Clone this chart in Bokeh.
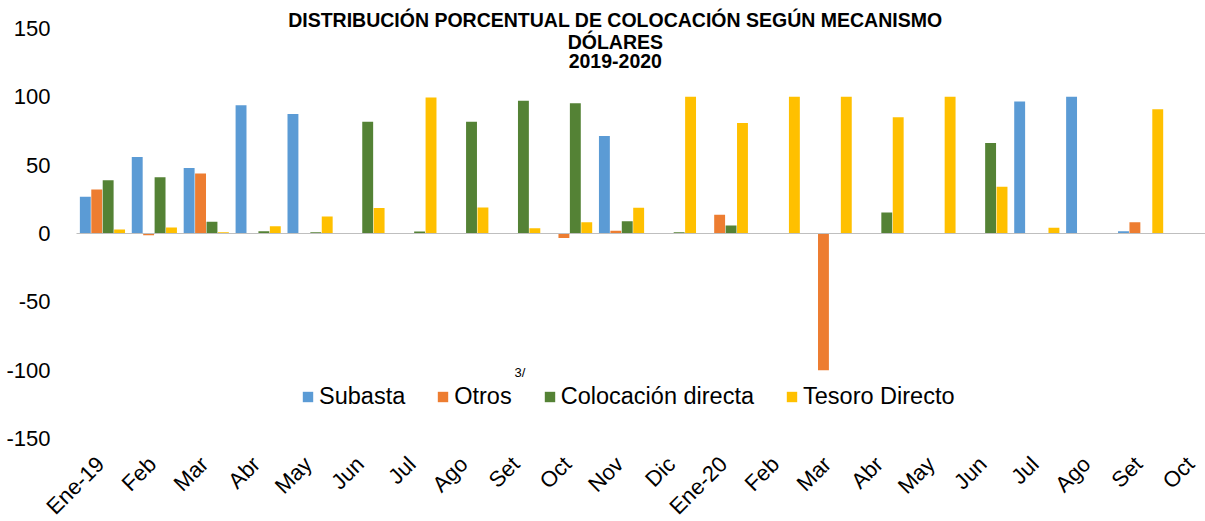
import math
from bokeh.plotting import figure
from bokeh.models import (Range1d, FixedTicker, Legend, LegendItem, Label, ColumnDataSource)
from bokeh.embed import file_html
from bokeh.resources import INLINE

months = ["Ene-19", "Feb", "Mar", "Abr", "May", "Jun", "Jul", "Ago", "Set", "Oct", "Nov", "Dic",
          "Ene-20", "Feb", "Mar", "Abr", "May", "Jun", "Jul", "Ago", "Set", "Oct"]
subasta = [26.9, 56.0, 47.9, 93.9, 87.5, 0, 0, 0, 0, 0, 71.4, 0,
           0, 0, 0, 0, 0, 0, 96.6, 100, 1.7, 0]
otros = [32.3, -1.2, 44.0, 0, 0, 0, 0, 0, 0, -3.2, 2.0, 0,
         13.7, 0, -100, 0, 0, 0, 0, 0, 8.3, 0]
colocacion = [38.9, 41.1, 8.6, 1.7, 1.0, 81.7, 1.5, 81.7, 97.1, 95.4, 9.0, 1.0,
              5.9, 0, 0, 15.4, 0, 66.3, 0, 0, 0, 0]
tesoro = [2.9, 4.4, 1.0, 5.4, 12.5, 18.6, 99.5, 19.1, 3.9, 8.3, 18.8, 100,
          80.9, 100, 100, 85.1, 100, 34.2, 4.2, 0, 91.0, 0]

series_names = ["Subasta", "Otros", "Colocación directa", "Tesoro Directo"]
series_vals = [subasta, otros, colocacion, tesoro]
colors = ["#5B9BD5", "#ED7D31", "#548235", "#FFC000"]
offsets = [-0.33, -0.11, 0.11, 0.33]
y_ticks = [-150, -100, -50, 0, 50, 100, 150]

FONT = "Liberation Sans"
X_START, X_END = -0.5, 21.25     # plotted category span
X_VIEW_START = -1.964            # room on the left for the value labels

p = figure(width=1205, height=521, output_backend="svg", toolbar_location=None,
           x_range=Range1d(X_VIEW_START, X_END), y_range=Range1d(-210.7, 170.5),
           min_border_left=0, min_border_right=0, min_border_top=0, min_border_bottom=0)
p.outline_line_color = None
p.xgrid.visible = False
p.ygrid.visible = False
p.background_fill_color = "white"
p.border_fill_color = "white"

xs = list(range(len(months)))
items = []
for name, vals, col, off in zip(series_names, series_vals, colors, offsets):
    src = ColumnDataSource(dict(x=[i + off for i in xs], top=vals))
    r = p.vbar(x="x", top="top", bottom=0, width=0.21, source=src,
               fill_color=col, line_color=None)
    items.append(LegendItem(label=name, renderers=[r]))

# x axis: drawn as the zero line, labels placed low below the plot
p.xaxis.fixed_location = 0
p.xaxis.bounds = (X_START, X_END)
p.xaxis.ticker = FixedTicker(ticks=xs)
p.xaxis.axis_line_color = "#BFBFBF"
p.xaxis.axis_line_width = 1
p.xaxis.major_tick_line_color = None
p.xaxis.minor_tick_line_color = None
p.xaxis.major_label_text_alpha = 0
p.xaxis.major_label_text_font_size = "1px"
p.xaxis.major_label_standoff = 0

# y axis
p.yaxis.fixed_location = X_START
p.yaxis.ticker = FixedTicker(ticks=y_ticks)
p.yaxis.major_label_overrides = {t: str(t) for t in y_ticks}
p.yaxis.axis_line_color = None
p.yaxis.major_tick_line_color = None
p.yaxis.minor_tick_line_color = None
p.yaxis.major_label_text_font = FONT
p.yaxis.major_label_text_font_size = "22px"
p.yaxis.major_label_text_color = "#000000"
p.yaxis.major_label_standoff = 20

for i, m in zip(xs, months):
    p.add_layout(Label(x=i, y=-166.0, text=m, angle=math.pi / 4, x_offset=-2,
                       text_align="right", text_baseline="middle",
                       text_font=FONT, text_font_size="22px", text_color="#000000"))

legend = Legend(items=items, orientation="horizontal", location=(301, 111),
                glyph_width=13, glyph_height=13, label_standoff=5, spacing=31,
                padding=0, margin=0, border_line_color=None, background_fill_alpha=0,
                label_text_font=FONT, label_text_font_size="23.5px", label_text_color="#000000",
                label_height=20)
p.add_layout(legend)

title_lines = ["DISTRIBUCIÓN PORCENTUAL DE COLOCACIÓN SEGÚN MECANISMO", "DÓLARES", "2019-2020"]
title_y = [155.9, 140.5, 125.9]
for t, yy in zip(title_lines, title_y):
    p.add_layout(Label(x=9.88, y=yy, text=t, text_align="center", text_baseline="middle",
                       text_font=FONT, text_font_size="19.5px", text_font_style="bold",
                       text_color="#000000"))

p.add_layout(Label(x=7.94, y=-101.7, text="3/", text_align="left", text_baseline="middle",
                   text_font=FONT, text_font_size="13px", text_color="#000000"))

open("out.html", "w").write(file_html(p, INLINE))
